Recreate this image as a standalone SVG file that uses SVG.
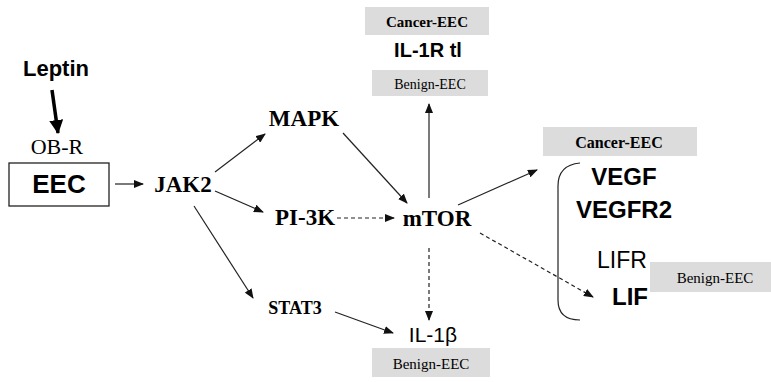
<svg xmlns="http://www.w3.org/2000/svg" width="771" height="382" viewBox="0 0 771 382">
<style>
  .sans{font-family:"Liberation Sans",Arial,sans-serif;fill:#000}
  .serif{font-family:"Liberation Serif","Times New Roman",serif;fill:#000}
  .b{font-weight:bold}
  .tag{fill:#dcdcdc}
  .ln{stroke:#222;stroke-width:1.2;fill:none}
  .dash{stroke-dasharray:4 3}
</style>
<defs>
  <marker id="ah" markerUnits="userSpaceOnUse" markerWidth="10" markerHeight="8" refX="9" refY="4" orient="auto">
    <path d="M0,0 L10,4 L0,8 z" fill="#111"/>
  </marker>
  <marker id="ahBig" markerUnits="userSpaceOnUse" markerWidth="14" markerHeight="14" refX="13" refY="7" orient="auto">
    <path d="M0,0 L14,7 L0,14 z" fill="#000"/>
  </marker>
</defs>
<rect width="771" height="382" fill="#fff"/>

<g id="connectors">
  <line x1="52" y1="90" x2="58" y2="133" stroke="#000" stroke-width="3.5" marker-end="url(#ahBig)"/>
  <line class="ln" x1="115" y1="184" x2="143" y2="184" marker-end="url(#ah)"/>
  <line class="ln" x1="215" y1="172" x2="265" y2="134" marker-end="url(#ah)"/>
  <line class="ln" x1="215" y1="191" x2="263" y2="212" marker-end="url(#ah)"/>
  <line class="ln" x1="194" y1="206" x2="253" y2="298" marker-end="url(#ah)"/>
  <line class="ln" x1="343" y1="133" x2="407" y2="203" marker-end="url(#ah)"/>
  <line class="ln dash" x1="337" y1="218" x2="394" y2="218" marker-end="url(#ah)"/>
  <line class="ln" x1="429" y1="198" x2="429" y2="104" marker-end="url(#ah)"/>
  <line class="ln" x1="458" y1="205" x2="537" y2="170" marker-end="url(#ah)"/>
  <line class="ln dash" x1="480" y1="233" x2="593" y2="297" marker-end="url(#ah)"/>
  <line class="ln dash" x1="429" y1="248" x2="429" y2="320" marker-end="url(#ah)"/>
  <line class="ln" x1="335" y1="312" x2="393" y2="333" marker-end="url(#ah)"/>
  <path class="ln" d="M580,163 Q558,165 558,186 L558,300 Q558,320 580,320" stroke="#333" stroke-width="1.4"/>
</g>

<g id="leptin"><text class="sans b" x="56" y="76" font-size="22" text-anchor="middle">Leptin</text></g>
<g id="obr"><text class="serif" x="57" y="154" font-size="22" text-anchor="middle">OB-R</text></g>
<g id="eec">
  <rect x="9" y="163" width="100" height="43" fill="#fff" stroke="#222" stroke-width="1.3"/>
  <text class="sans b" x="59" y="193" font-size="26" text-anchor="middle">EEC</text>
</g>
<g id="jak2"><text class="serif b" x="183" y="192" font-size="23" text-anchor="middle">JAK2</text></g>
<g id="mapk"><text class="serif b" x="304" y="126" font-size="23" text-anchor="middle">MAPK</text></g>
<g id="pi3k"><text class="serif b" x="305" y="225" font-size="23" text-anchor="middle">PI-3K</text></g>
<g id="mtor"><text class="serif b" x="437" y="226" font-size="23" text-anchor="middle">mTOR</text></g>
<g id="stat3"><text class="serif b" x="295" y="314" font-size="18" text-anchor="middle">STAT3</text></g>

<g id="top-cancer">
  <rect class="tag" x="365" y="7" width="124" height="28"/>
  <text class="serif b" x="427" y="27" font-size="15" text-anchor="middle">Cancer-EEC</text>
</g>
<g id="il1r"><text class="sans b" x="428" y="57" font-size="20" text-anchor="middle">IL-1R tl</text></g>
<g id="top-benign">
  <rect class="tag" x="372" y="70" width="116" height="26"/>
  <text class="serif" x="430" y="89" font-size="14" text-anchor="middle">Benign-EEC</text>
</g>

<g id="right-cancer">
  <rect class="tag" x="543" y="127" width="154" height="29"/>
  <text class="serif b" x="619" y="148" font-size="16" text-anchor="middle">Cancer-EEC</text>
</g>
<g id="vegf"><text class="sans b" x="624" y="185" font-size="24" text-anchor="middle">VEGF</text></g>
<g id="vegfr2"><text class="sans b" x="624" y="218" font-size="24" text-anchor="middle">VEGFR2</text></g>
<g id="lifr"><text class="sans" x="597" y="268" font-size="23">LIFR</text></g>
<g id="lif"><text class="sans b" x="612" y="305" font-size="24">LIF</text></g>
<g id="right-benign">
  <rect class="tag" x="650" y="262" width="121" height="30"/>
  <text class="serif" x="715" y="283" font-size="15" text-anchor="middle">Benign-EEC</text>
</g>

<g id="il1b"><text class="sans" x="433" y="342" font-size="21" text-anchor="middle">IL-1β</text></g>
<g id="bottom-benign">
  <rect class="tag" x="372" y="348" width="118" height="29"/>
  <text class="serif" x="431" y="369" font-size="15" text-anchor="middle">Benign-EEC</text>
</g>
</svg>
